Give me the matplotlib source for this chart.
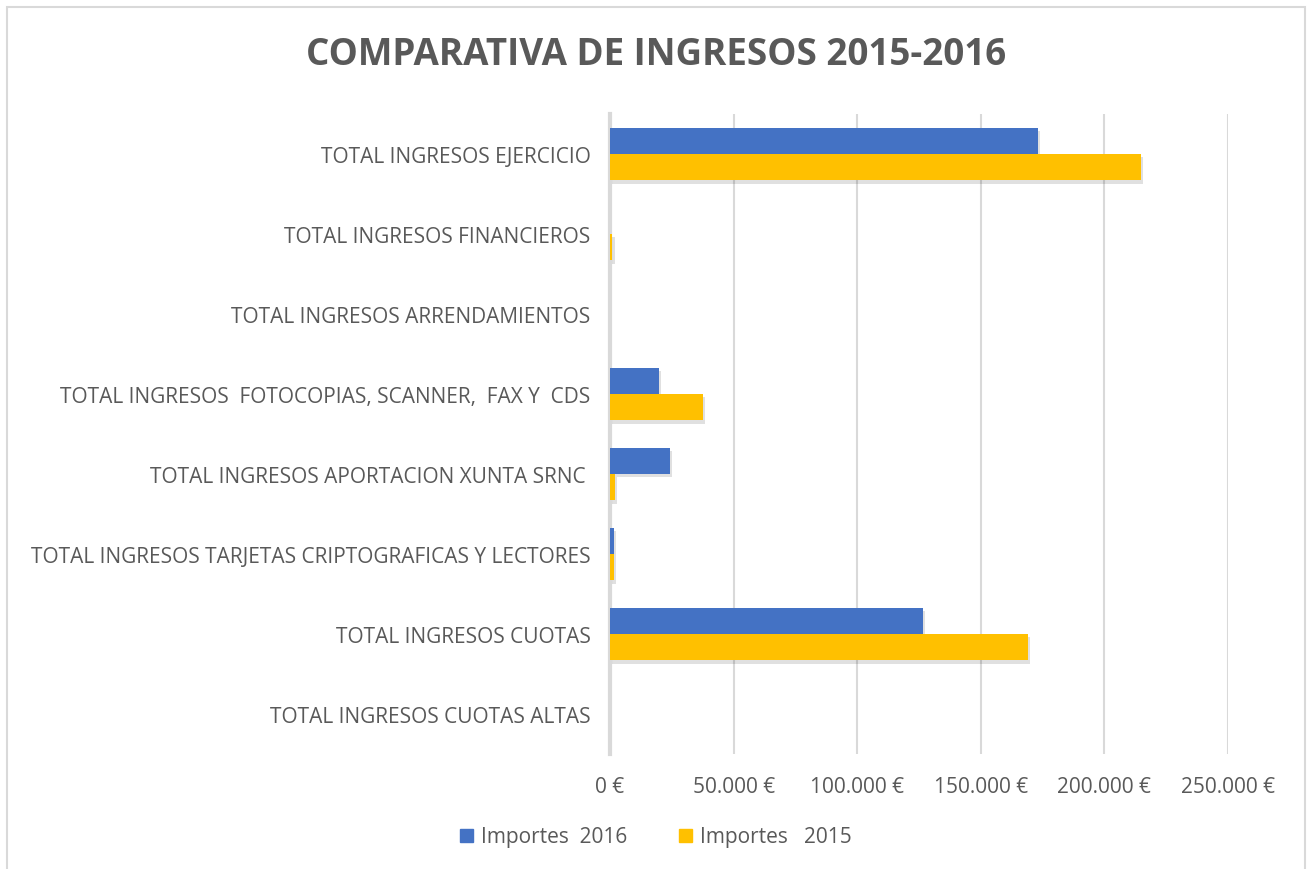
import numpy as np
import matplotlib.pyplot as plt
from matplotlib.patches import Rectangle, Patch
from matplotlib.ticker import FuncFormatter
import matplotlib.patheffects as pe

plt.rcParams['font.family'] = ['Open Sans', 'DejaVu Sans']

#-------------------------------------------------------------------------------
#DATA

categories = ['TOTAL INGRESOS EJERCICIO',
              'TOTAL INGRESOS FINANCIEROS',
              'TOTAL INGRESOS ARRENDAMIENTOS',
              'TOTAL INGRESOS  FOTOCOPIAS, SCANNER,  FAX Y  CDS',
              'TOTAL INGRESOS APORTACION XUNTA SRNC ',
              'TOTAL INGRESOS TARJETAS CRIPTOGRAFICAS Y LECTORES',
              'TOTAL INGRESOS CUOTAS',
              'TOTAL INGRESOS CUOTAS ALTAS']
imp_2016 = [173000, 0, 0, 19800, 24300, 1500, 126600, 0]
imp_2015 = [214800, 1000, 0, 37600, 1900, 1500, 169100, 0]
xticks = [0, 50000, 100000, 150000, 200000, 250000]

#-------------------------------------------------------------------------------
#PLOT

grey = '#595959'
c16, c15 = '#4472C4', '#FFC000'
fig = plt.figure(figsize=(13.12, 8.7), dpi=100)
ax = fig.add_axes([610/1312, 1-755/870, (1228-610)/1312, 640/870])

y = np.arange(len(categories))
h = 0.33
shadow = [pe.SimplePatchShadow(offset=(1.5, -2.5), shadow_rgbFace='#000000', alpha=0.12), pe.Normal()]
b1 = ax.barh(y - h/2, imp_2016, height=h, color=c16, zorder=3)
b2 = ax.barh(y + h/2, imp_2015, height=h, color=c15, zorder=3)
for b in list(b1) + list(b2):
    if b.get_width() > 0:
        b.set_path_effects(shadow)

ax.set_ylim(len(categories) - 0.5, -0.5)
ax.set_xlim(0, 250000)
ax.set_yticks(y)
ax.set_yticklabels(categories, fontsize=15, color=grey)
ax.set_xticks(xticks)
ax.xaxis.set_major_formatter(FuncFormatter(lambda v, p: ('%d €' % v) if v == 0 else ('{:,.0f} €'.format(v).replace(',', '.'))))
ax.tick_params(axis='x', labelsize=15, colors=grey, length=0, pad=16)
ax.tick_params(axis='y', length=0, pad=14)
ax.grid(axis='x', color='#D9D9D9', linewidth=1.5, zorder=0)
for s in ['top', 'right', 'bottom']:
    ax.spines[s].set_visible(False)
ax.spines['left'].set_color('#D9D9D9')
ax.spines['left'].set_linewidth(3)
ax.spines['left'].set_zorder(2)

fig.text(0.5, 1-55/870, 'COMPARATIVA DE INGRESOS 2015-2016', ha='center', va='center',
         fontsize=26.5, fontweight='bold', color=grey)

handles = [Patch(color=c16, label='Importes  2016'), Patch(color=c15, label='Importes   2015')]
fig.legend(handles=handles, loc='center', bbox_to_anchor=(0.5, 1-838/870), ncol=2,
           frameon=False, fontsize=15, labelcolor=grey, handlelength=0.6, handleheight=0.6,
           handletextpad=0.4, columnspacing=2.5)

fig.patches.append(Rectangle((7/1312, -0.01), (1305-7)/1312, 1-8/870+0.01, transform=fig.transFigure,
                             fill=False, edgecolor='#D9D9D9', linewidth=1.5))

fig.savefig('out.png', dpi=100)
